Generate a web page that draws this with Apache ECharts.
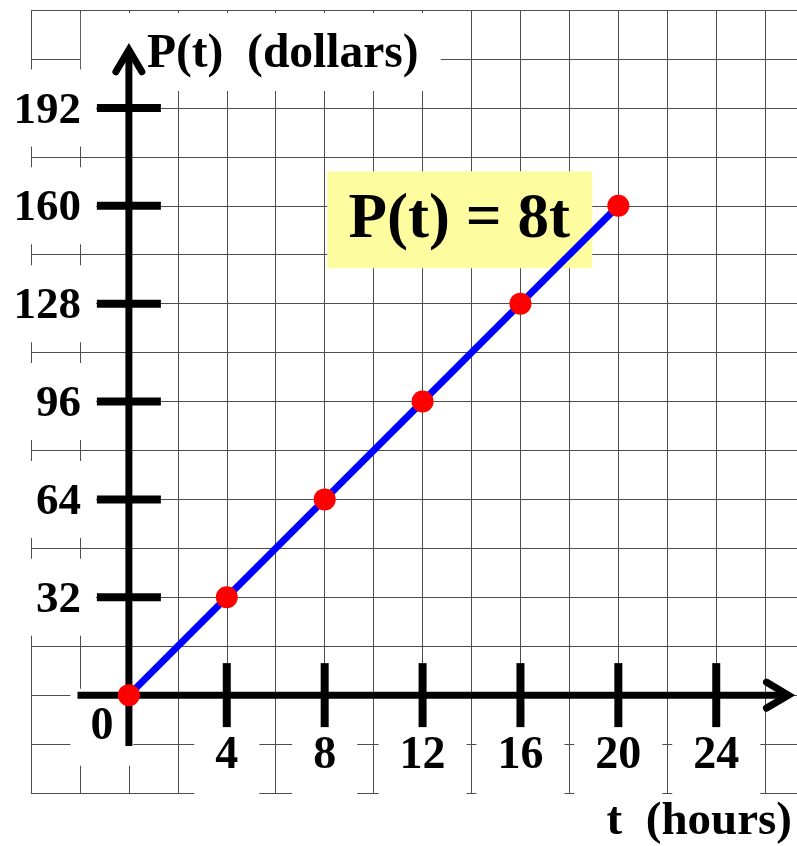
<!DOCTYPE html>
<html>
<head>
<meta charset="utf-8">
<title>P(t) = 8t</title>
<script src="https://cdn.jsdelivr.net/npm/echarts@6/dist/echarts.min.js"></script>
<style>
  html, body { margin: 0; padding: 0; background: #ffffff; }
  #chart { width: 797px; height: 846px; }
</style>
</head>
<body>
<div id="chart"></div>
<script>
// Pay earned after t hours at $8 per hour
const hours = [0, 4, 8, 12, 16, 20];
const pay = [0, 32, 64, 96, 128, 160];

// Labelled ticks on each axis
const tTicks = [4, 8, 12, 16, 20, 24];
const pTicks = [32, 64, 96, 128, 160, 192];

// Axis names and the equation shown on the graph
const tName = 't  (hours)';
const pName = 'P(t)  (dollars)';
const equation = 'P(t) = 8t';

// Visible window of the grid paper
const T_MIN = -4, T_MAX = 27.3, T_STEP = 2;
const P_MIN = -32, P_MAX = 224, P_STEP = 16;

// Where the drawn axis lines start and where their arrows point
const T_AXIS_START = -2.1, T_ARROW = 26.95;
const P_AXIS_START = -16.6, P_ARROW = 211;

// Centre of the equation box
const NOTE_T = 13.5, NOTE_P = 155.6;

const FONT = '"Liberation Serif", "Times New Roman", Times, serif';
const GRID_COLOR = '#4d4d4d';
const PLOT_BOX = { left: 31, right: 0, top: 10, bottom: 53, containLabel: false, outerBoundsMode: 'none' };

const chart = echarts.init(document.getElementById('chart'), null, { renderer: 'canvas' });

// Axis that only draws the grid paper lines
const gridLineAxis = (min, max, step) => ({
  type: 'value', gridIndex: 0, min: min, max: max, interval: step, z: 0,
  axisLine: { show: false, onZero: false },
  axisTick: { show: false },
  axisLabel: { show: false },
  splitLine: { show: true, lineStyle: { color: GRID_COLOR, width: 1 } }
});

// Axis that only draws white-backed tick labels; it is shifted onto the zero line below
const labelAxis = (min, max, step, ticks, richStyle, margin) => ({
  type: 'value', gridIndex: 1, min: min, max: max, interval: step, z: 1, offset: 0,
  axisLine: { show: false, onZero: false },
  axisTick: { show: false },
  splitLine: { show: false },
  axisLabel: {
    show: true,
    margin: margin,
    formatter: v => ticks.indexOf(Math.round(v)) >= 0 && Math.abs(v - Math.round(v)) < 1e-6 ? '{b|' + Math.round(v) + '}' : '',
    rich: { b: richStyle }
  }
});

const tLabelStyle = {
  fontFamily: FONT, fontWeight: 'bold', fontSize: 46, color: '#000',
  lineHeight: 45, backgroundColor: '#ffffff', padding: [16, 21, 16, 21]
};
const pLabelStyle = {
  fontFamily: FONT, fontWeight: 'bold', fontSize: 45, color: '#000',
  lineHeight: 45, backgroundColor: '#ffffff', padding: [19, 15, 13, 15]
};

// Axis lines with open arrowheads, thick ticks, names, the origin label and the equation box
function renderDecor(params, api) {
  const o = api.coord([0, 0]);
  const corner = api.coord([0, P_MAX]);
  const tStart = api.coord([T_AXIS_START, 0]);
  const tTip = api.coord([T_ARROW, 0]);
  const pStart = api.coord([0, P_AXIS_START]);
  const pTip = api.coord([0, P_ARROW]);
  const note = api.coord([NOTE_T, NOTE_P]);
  const bottomRight = api.coord([T_MAX, P_MIN]);
  const black = '#000000';
  const kids = [];

  // White backing behind the vertical axis name
  kids.push({ type: 'rect', shape: { x: corner[0] - 48, y: corner[1] + 3, width: 360, height: 78 }, style: { fill: '#ffffff' } });
  kids.push({ type: 'text', style: {
    text: pName, x: corner[0] + 18, y: corner[1] + 45,
    align: 'left', verticalAlign: 'middle', textAlign: 'left', textVerticalAlign: 'middle',
    font: 'bold 47.5px ' + FONT, fill: black
  } });

  // Origin label
  kids.push({ type: 'text', style: {
    text: '0', x: o[0] - 27, y: o[1] + 32,
    align: 'center', verticalAlign: 'middle', textAlign: 'center', textVerticalAlign: 'middle',
    font: 'bold 46px ' + FONT, fill: black,
    backgroundColor: '#ffffff', padding: [16, 20, 16, 20], lineHeight: 45
  } });

  // Equation box
  kids.push({ type: 'rect', shape: { x: note[0] - 132, y: note[1] - 48, width: 265, height: 97 }, style: { fill: '#fdfd9f' } });
  kids.push({ type: 'text', style: {
    text: equation, x: note[0], y: note[1] + 2,
    align: 'center', verticalAlign: 'middle', textAlign: 'center', textVerticalAlign: 'middle',
    font: 'bold 63px ' + FONT, fill: black
  } });

  // Horizontal axis
  kids.push({ type: 'line', shape: { x1: tStart[0], y1: o[1], x2: tTip[0], y2: o[1] }, style: { stroke: black, lineWidth: 7 } });
  kids.push({ type: 'polyline', shape: { points: [[tTip[0] - 22, o[1] - 13], [tTip[0], o[1]], [tTip[0] - 22, o[1] + 13]] },
    style: { stroke: black, fill: null, lineWidth: 7, lineCap: 'round', lineJoin: 'miter' } });

  // Vertical axis
  kids.push({ type: 'line', shape: { x1: o[0], y1: pStart[1], x2: o[0], y2: pTip[1] }, style: { stroke: black, lineWidth: 7 } });
  kids.push({ type: 'polyline', shape: { points: [[o[0] - 13, pTip[1] + 22], [o[0], pTip[1]], [o[0] + 13, pTip[1] + 22]] },
    style: { stroke: black, fill: null, lineWidth: 7, lineCap: 'round', lineJoin: 'miter' } });

  // Thick ticks crossing each axis
  tTicks.forEach(t => {
    const p = api.coord([t, 0]);
    kids.push({ type: 'line', shape: { x1: p[0], y1: p[1] - 32, x2: p[0], y2: p[1] + 32 }, style: { stroke: black, lineWidth: 8 } });
  });
  pTicks.forEach(v => {
    const p = api.coord([0, v]);
    kids.push({ type: 'line', shape: { x1: p[0] - 32, y1: p[1], x2: p[0] + 32, y2: p[1] }, style: { stroke: black, lineWidth: 8 } });
  });

  // Horizontal axis name
  kids.push({ type: 'text', style: {
    text: tName, x: bottomRight[0] - 5, y: bottomRight[1] + 29,
    align: 'right', verticalAlign: 'middle', textAlign: 'right', textVerticalAlign: 'middle',
    font: 'bold 47px ' + FONT, fill: black
  } });

  return { type: 'group', children: kids };
}

const option = {
  animation: false,
  backgroundColor: '#ffffff',
  grid: [Object.assign({}, PLOT_BOX), Object.assign({}, PLOT_BOX)],
  xAxis: [
    gridLineAxis(T_MIN, T_MAX, T_STEP),
    labelAxis(T_MIN, T_MAX, 4, tTicks, tLabelStyle, 38)
  ],
  yAxis: [
    gridLineAxis(P_MIN, P_MAX, P_STEP),
    labelAxis(P_MIN, P_MAX, 32, pTicks, pLabelStyle, 33)
  ],
  series: [
    {
      type: 'custom',
      z: 3,
      xAxisIndex: 0, yAxisIndex: 0,
      data: [[0, 0]],
      encode: { x: 0, y: 1 },
      clip: false,
      silent: true,
      renderItem: renderDecor
    },
    {
      type: 'line',
      z: 5,
      xAxisIndex: 0, yAxisIndex: 0,
      data: hours.map((t, i) => [t, pay[i]]),
      symbol: 'circle',
      symbolSize: 22,
      showAllSymbol: true,
      lineStyle: { color: '#0000ff', width: 7 },
      itemStyle: { color: '#ff0000' },
      silent: true
    }
  ]
};

chart.setOption(option);

// Move the label axes from the plot edges onto the zero lines of the scales
const finder = { xAxisIndex: 0, yAxisIndex: 0 };
const origin = chart.convertToPixel(finder, [0, 0]);
const lowerLeft = chart.convertToPixel(finder, [T_MIN, P_MIN]);
chart.setOption({
  xAxis: [{}, { offset: -(lowerLeft[1] - origin[1]) }],
  yAxis: [{}, { offset: -(origin[0] - lowerLeft[0]) }]
});
</script>
</body>
</html>
